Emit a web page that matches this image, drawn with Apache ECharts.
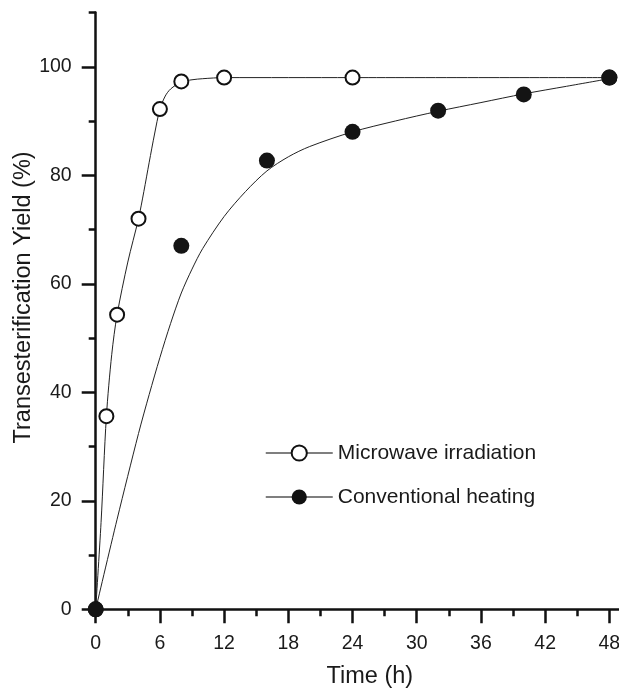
<!DOCTYPE html>
<html>
<head>
<meta charset="utf-8">
<title>Transesterification Yield</title>
<script src="https://cdn.jsdelivr.net/npm/echarts@6/dist/echarts.min.js"></script>
<style>
  html, body { margin: 0; padding: 0; background: #fff; }
  #chart { width: 619px; height: 688px; }
</style>
</head>
<body>
<div id="chart"></div>
<script>
// measured points
const microX = [0, 1, 2, 4, 6, 8, 12, 24, 48]
const microY = [0, 35.6, 54.3, 72, 92.2, 97.3, 98, 98, 98]
const convX = [0, 8, 16, 24, 32, 40, 48]
const convY = [0, 67, 82.7, 88, 91.9, 94.9, 98]

// fitted curves
const microCurveX = [0, 0.5, 1, 1.5, 2, 3, 4, 4.5, 5, 5.5, 6, 6.5, 7, 8, 9, 10, 12, 24, 48]
const microCurveY = [0, 16, 35.6, 47, 54.3, 64, 72, 77, 82.4, 87.6, 92.2, 94.6, 95.9, 97.2, 97.6, 97.8, 98, 98, 98]
const convCurveX = [0, 2, 4, 5, 6, 7, 8, 9, 10, 12, 14, 16, 18, 20, 24, 28, 32, 36, 40, 44, 48]
const convCurveY = [0, 16.6, 32.4, 39.6, 46.4, 52.7, 58.3, 62.7, 66.5, 72.4, 77, 80.8, 83.4, 85.3, 88, 90, 91.8, 93.4, 95, 96.4, 97.8]

// ticks
const xTicks = [0, 6, 12, 18, 24, 30, 36, 42, 48]
const xMinorTicks = [3, 9, 15, 21, 27, 33, 39, 45]
const yTicks = [0, 20, 40, 60, 80, 100]
const yMinorTicks = [10, 30, 50, 70, 90, 110]

const seriesNames = ['Microwave irradiation', 'Conventional heating']

const pairs = (xs, ys) => xs.map((x, i) => [x, ys[i]])

const FONT = "'Liberation Sans', Arial, sans-serif"
const INK = '#1a1a1a'
const AXIS_COLOR = '#111'

// fixed plot box, no auto shrinking for labels
const grid = { left: 95.7, top: 12.5, width: 523.3, height: 596.8, outerBoundsMode: 'none', containLabel: false }

const majorAxis = (extra) => ({
  type: 'value',
  axisLine: { show: true, lineStyle: { color: AXIS_COLOR, width: 2.5 } },
  splitLine: { show: false },
  nameMoveOverlap: false,
  ...extra
})

const minorAxis = (extra) => ({
  type: 'value',
  axisLine: { show: false },
  splitLine: { show: false },
  axisLabel: { show: false },
  ...extra
})

const chart = echarts.init(document.getElementById('chart'), null, { renderer: 'canvas' })

const option = {
  animation: false,
  backgroundColor: '#fff',
  grid: grid,
  xAxis: [
    majorAxis({
      min: 0,
      max: 48.9,
      position: 'bottom',
      name: 'Time (h)',
      nameLocation: 'middle',
      nameGap: 55,
      nameTextStyle: { color: INK, fontFamily: FONT, fontSize: 23.5, padding: [0, 0, 0, 25] },
      axisTick: { show: true, length: 14, customValues: xTicks, lineStyle: { color: AXIS_COLOR, width: 2.5 } },
      axisLabel: { color: INK, fontFamily: FONT, fontSize: 19.5, margin: 24, customValues: xTicks }
    }),
    minorAxis({
      min: 0,
      max: 48.9,
      position: 'bottom',
      axisTick: { show: true, length: 7, customValues: xMinorTicks, lineStyle: { color: AXIS_COLOR, width: 2.5 } }
    })
  ],
  yAxis: [
    majorAxis({
      min: 0,
      max: 110,
      position: 'left',
      name: 'Transesterification Yield (%)',
      nameLocation: 'middle',
      nameGap: 60,
      nameTextStyle: { color: INK, fontFamily: FONT, fontSize: 23.5, padding: [0, 0, 0, 27] },
      axisTick: { show: true, length: 14, customValues: yTicks, lineStyle: { color: AXIS_COLOR, width: 2.5 } },
      axisLabel: { color: INK, fontFamily: FONT, fontSize: 19.5, margin: 24, customValues: yTicks }
    }),
    minorAxis({
      min: 0,
      max: 110,
      position: 'left',
      axisTick: { show: true, length: 7, customValues: yMinorTicks, lineStyle: { color: AXIS_COLOR, width: 2.5 } }
    })
  ],
  legend: {
    data: seriesNames,
    orient: 'vertical',
    left: 260,
    top: 437.5,
    itemWidth: 67,
    itemHeight: 19,
    itemGap: 23,
    selectedMode: false,
    lineStyle: { color: '#555', width: 1.5 },
    textStyle: { color: INK, fontFamily: FONT, fontSize: 21 }
  },
  series: [
    // fitted curves (these carry the legend entries)
    {
      name: seriesNames[0],
      type: 'line',
      data: pairs(microCurveX, microCurveY),
      smooth: 0.3,
      symbol: 'emptyCircle',
      showSymbol: false,
      color: '#111',
      lineStyle: { color: '#222', width: 1 },
      silent: true,
      z: 2
    },
    {
      name: seriesNames[1],
      type: 'line',
      data: pairs(convCurveX, convCurveY),
      smooth: 0.3,
      symbol: 'circle',
      showSymbol: false,
      color: '#111',
      lineStyle: { color: '#222', width: 1 },
      silent: true,
      z: 2
    },
    // measured points
    {
      name: 'microPoints',
      type: 'scatter',
      data: pairs(microX, microY),
      symbol: 'circle',
      symbolSize: 14,
      clip: false,
      itemStyle: { color: '#fff', borderColor: '#111', borderWidth: 2, opacity: 1 },
      z: 3
    },
    {
      name: 'convPoints',
      type: 'scatter',
      data: pairs(convX, convY),
      symbol: 'circle',
      symbolSize: 16,
      clip: false,
      itemStyle: { color: '#141414', opacity: 1 },
      z: 4
    }
  ]
}

chart.setOption(option)
</script>
</body>
</html>
